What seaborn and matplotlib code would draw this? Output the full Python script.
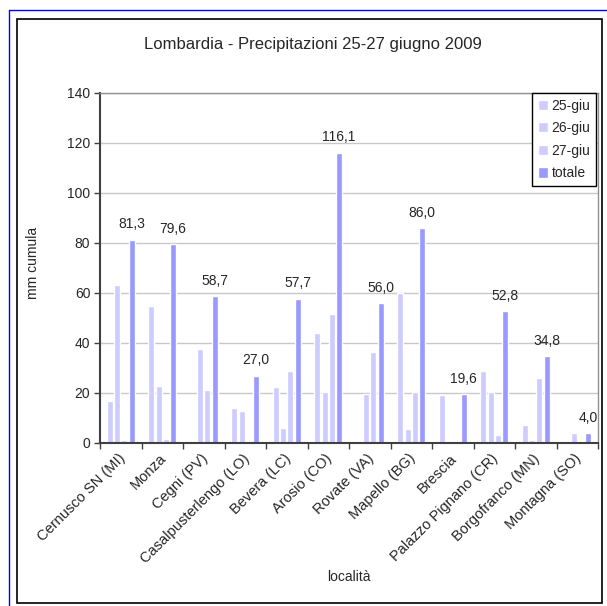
import numpy as np
import pandas as pd
import seaborn as sns
import matplotlib.pyplot as plt
from matplotlib.patches import Rectangle
from matplotlib.lines import Line2D
from matplotlib.transforms import ScaledTranslation

# dati
localita = ['Cernusco SN (MI)', 'Monza', 'Cegni (PV)', 'Casalpusterlengo (LO)',
            'Bevera (LC)', 'Arosio (CO)', 'Rovate (VA)', 'Mapello (BG)',
            'Brescia', 'Palazzo Pignano (CR)', 'Borgofranco (MN)', 'Montagna (SO)']
giu25 = [16.8, 55.0, 0.0, 14.0, 22.6, 44.0, 0.0, 60.0, 19.2, 29.0, 7.4, 0.0]
giu26 = [63.4, 23.0, 37.5, 13.0, 6.2, 20.5, 19.5, 5.5, 0.0, 20.4, 1.2, 4.0]
giu27 = [1.1, 1.6, 21.2, 0.0, 28.9, 51.6, 36.5, 20.5, 0.4, 3.4, 26.2, 0.0]
totale = [81.3, 79.6, 58.7, 27.0, 57.7, 116.1, 56.0, 86.0, 19.6, 52.8, 34.8, 4.0]
serie = ['25-giu', '26-giu', '27-giu', 'totale']

chiaro = '#CCCCFF'
scuro = '#9999FF'

df = pd.DataFrame({'localita': localita, '25-giu': giu25, '26-giu': giu26,
                   '27-giu': giu27, 'totale': totale})
df = df.melt(id_vars='localita', var_name='serie', value_name='mm')

sns.set_style('white')
plt.rcParams['font.family'] = ['Liberation Sans', 'DejaVu Sans']

fig = plt.figure(figsize=(6.07, 6.06), dpi=100)
ax = fig.add_axes([100 / 607, 1 - 443 / 606, 498 / 607, 350 / 606])

sns.barplot(data=df, x='localita', y='mm', hue='serie', order=localita,
            hue_order=serie, palette=[chiaro, chiaro, chiaro, scuro],
            width=0.70, gap=0.15, saturation=1, ax=ax, legend=False)

ax.set_xlim(-0.5, len(localita) - 0.5)
ax.set_ylim(0, 140)
ax.set_yticks(np.arange(0, 141, 20))
ax.yaxis.grid(True, color='#C8C8C8', linewidth=1)
ax.set_axisbelow(True)

for s in ['left', 'bottom']:
    ax.spines[s].set_color('#404040')
    ax.spines[s].set_linewidth(1.5)
for s in ['top', 'right']:
    ax.spines[s].set_color('#909090')
    ax.spines[s].set_linewidth(1)

ax.tick_params(axis='y', direction='out', length=4, width=1, color='#404040',
               labelsize=10, pad=3, left=True)
ax.tick_params(axis='x', which='major', length=0, pad=6, labelsize=10.5)
ax.set_xticks(np.arange(-0.5, len(localita)), minor=True)
ax.tick_params(axis='x', which='minor', direction='out', length=4, width=1,
               color='#404040', bottom=True)

sposta = ScaledTranslation(-3 / 100, 0, fig.dpi_scale_trans)
for lab in ax.get_xticklabels():
    lab.set_rotation(45)
    lab.set_ha('right')
    lab.set_va('top')
    lab.set_rotation_mode('anchor')
    lab.set_transform(lab.get_transform() + sposta)

ax.set_xlabel('località', fontsize=10)
ax.set_ylabel('mm cumula', fontsize=10)
ax.xaxis.set_label_coords(0.5, (443 - 577) / 350)
ax.xaxis.label.set_va('center')
ax.yaxis.set_label_coords((33 - 100) / 498, (443 - 263) / 350)
ax.yaxis.label.set_va('center')

# etichette sui totali
cont = ax.containers[3]
ax.bar_label(cont, labels=[f'{v:.1f}'.replace('.', ',') for v in totale],
             padding=6, fontsize=10)

# legenda
maniglie = [Rectangle((0, 0), 1, 1, facecolor=chiaro if s != 'totale' else scuro)
            for s in serie]
leg = ax.legend(maniglie, serie, loc='upper right',
                bbox_to_anchor=(596 / 607, 1 - 93 / 606),
                bbox_transform=fig.transFigure, fancybox=False,
                edgecolor='black', framealpha=1, fontsize=10,
                handlelength=0.75, handleheight=0.75, handletextpad=0.25,
                borderpad=0.4, labelspacing=0.62, borderaxespad=0)
leg.get_frame().set_linewidth(1)

fig.text(313 / 607, 1 - 45 / 606, 'Lombardia - Precipitazioni 25-27 giugno 2009',
         ha='center', va='center', fontsize=12)

# cornici
fig.add_artist(Rectangle((17 / 607, 1 - 603 / 606), 585 / 607, 584 / 606,
                         transform=fig.transFigure, fill=False,
                         edgecolor='black', linewidth=1.2))
fig.add_artist(Line2D([9 / 607, 9 / 607], [0, 1 - 10 / 606],
                      transform=fig.transFigure, color='#0000FF', linewidth=1))
fig.add_artist(Line2D([9 / 607, 1], [1 - 10 / 606, 1 - 10 / 606],
                      transform=fig.transFigure, color='#0000FF', linewidth=1))

fig.savefig('out.png', dpi=100)
